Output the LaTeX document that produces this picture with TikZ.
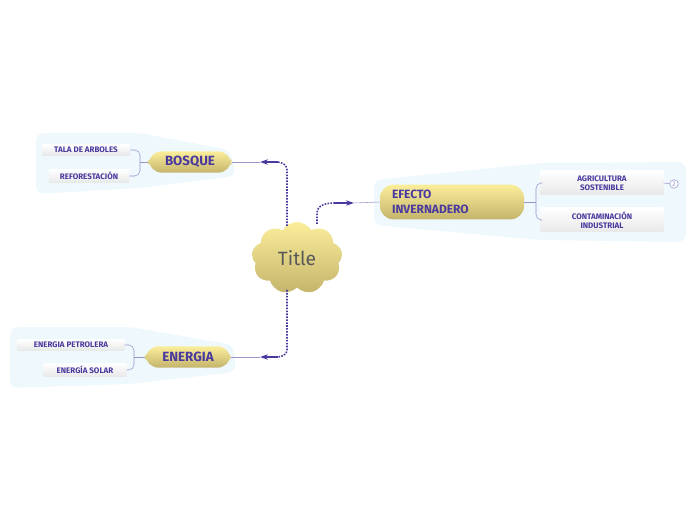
\documentclass[tikz,border=0pt]{standalone}
\usepackage{fontspec}
\setsansfont{Fira Sans}
\usetikzlibrary{positioning,shapes.symbols,arrows.meta}
\definecolor{ink}{HTML}{4A3A9E}
\definecolor{pale}{HTML}{EEF8FD}
\definecolor{lineclr}{HTML}{9A94C8}
\definecolor{khaki}{HTML}{C4B46C}
\definecolor{lightyel}{HTML}{FBEE9A}
\tikzset{
	topic/.style={rounded corners=10pt, top color=lightyel, bottom color=khaki, font=\sffamily\bfseries, text=ink, inner sep=3pt},
	subtopic/.style={top color=white, bottom color=gray!18, font=\sffamily\bfseries\fontsize{6}{7}\selectfont, text=ink, align=center, inner sep=2pt},
	link/.style={ink, densely dotted, line width=1.2pt},
	tip/.style={-{Stealth[length=6pt,width=4pt]}, ink, line width=2pt},
	branch/.style={lineclr, thin}
}
\begin{document}
\begin{tikzpicture}[x=0.75pt,y=-0.75pt]
	\useasboundingbox (0,0) rectangle (696,520);
	% backgrounds
	\fill[pale, rounded corners=6pt] (36,133) -- (140,133) -- (230,150) -- (236,176) -- (140,188) -- (36,194) -- cycle;
	\fill[pale, rounded corners=6pt] (10,327) -- (130,327) -- (234,345) -- (236,372) -- (130,384) -- (10,388) -- cycle;
	\fill[pale, rounded corners=6pt] (374,180) -- (540,163) -- (686,162) -- (686,242) -- (540,240) -- (374,225) -- cycle;
	% nodes
	\node[cloud, cloud puffs=9, cloud puff arc=120, aspect=1.3, top color=lightyel, bottom color=khaki, font=\sffamily\Large, text=gray!70!black, minimum width=68pt, minimum height=54pt] (title) at (297,258) {Title};
	\node[topic, minimum width=62pt, minimum height=16pt] (bosque) at (190,162) {BOSQUE};
	\node[topic, minimum width=108pt, minimum height=26pt, align=left, text width=90pt, font=\sffamily\bfseries\small] (efecto) at (452,202) {EFECTO\\INVERNADERO};
	\node[topic, minimum width=64pt, minimum height=16pt] (energia) at (188,357) {ENERGIA};
	\node[subtopic, minimum width=66pt] (tala) at (86,150) {TALA DE ARBOLES};
	\node[subtopic, minimum width=60pt] (refor) at (89,176) {REFORESTACIÓN};
	\node[subtopic, minimum width=80pt] (petro) at (71,345) {ENERGIA PETROLERA};
	\node[subtopic, minimum width=62pt] (solar) at (85,370) {ENERGÍA SOLAR};
	\node[subtopic, minimum width=92pt, minimum height=18pt] (agri) at (602,183) {AGRICULTURA\\SOSTENIBLE};
	\node[subtopic, minimum width=92pt, minimum height=18pt] (conta) at (602,220) {CONTAMINACIÓN\\INDUSTRIAL};
	\node[circle, draw=lineclr, fill=white, inner sep=0.8pt, font=\sffamily\fontsize{5}{5}\selectfont, text=lineclr] (count) at (674,184) {2};
	% arrow points
	\coordinate (a1) at (260,162);
	\coordinate (a2) at (354,203);
	\coordinate (a3) at (260,357);
	\coordinate (s1) at (287,226);
	\coordinate (s2) at (317,224);
	\coordinate (s3) at (287,290);
	% dotted connectors
	\draw[link] (s1) -- (287,170) to[out=90,in=0] (277,162);
	\draw[link] (s2) -- (317,213) to[out=90,in=180] (334,203);
	\draw[link] (s3) -- (287,350) to[out=-90,in=0] (277,357);
	\draw[tip] (278,162) -- (a1);
	\draw[tip] (334,203) -- (a2);
	\draw[tip] (278,357) -- (a3);
	\draw[branch] (a1) -- (bosque.east);
	\draw[branch] (a2) -- (efecto.west);
	\draw[branch] (a3) -- (energia.east);
	% branches
	\draw[branch, rounded corners=4pt] (bosque.west) -- (140,162);
	\draw[branch, rounded corners=4pt] (tala.east) -- (140,150) -- (140,176) -- (refor.east);
	\draw[branch, rounded corners=4pt] (energia.west) -- (134,357);
	\draw[branch, rounded corners=4pt] (petro.east) -- (134,345) -- (134,370) -- (solar.east);
	\draw[branch, rounded corners=4pt] (efecto.east) -- (536,202);
	\draw[branch, rounded corners=4pt] (agri.west) -- (536,183) -- (536,220) -- (conta.west);
	\draw[branch] (agri.east) -- (count);
\end{tikzpicture}
\end{document}
